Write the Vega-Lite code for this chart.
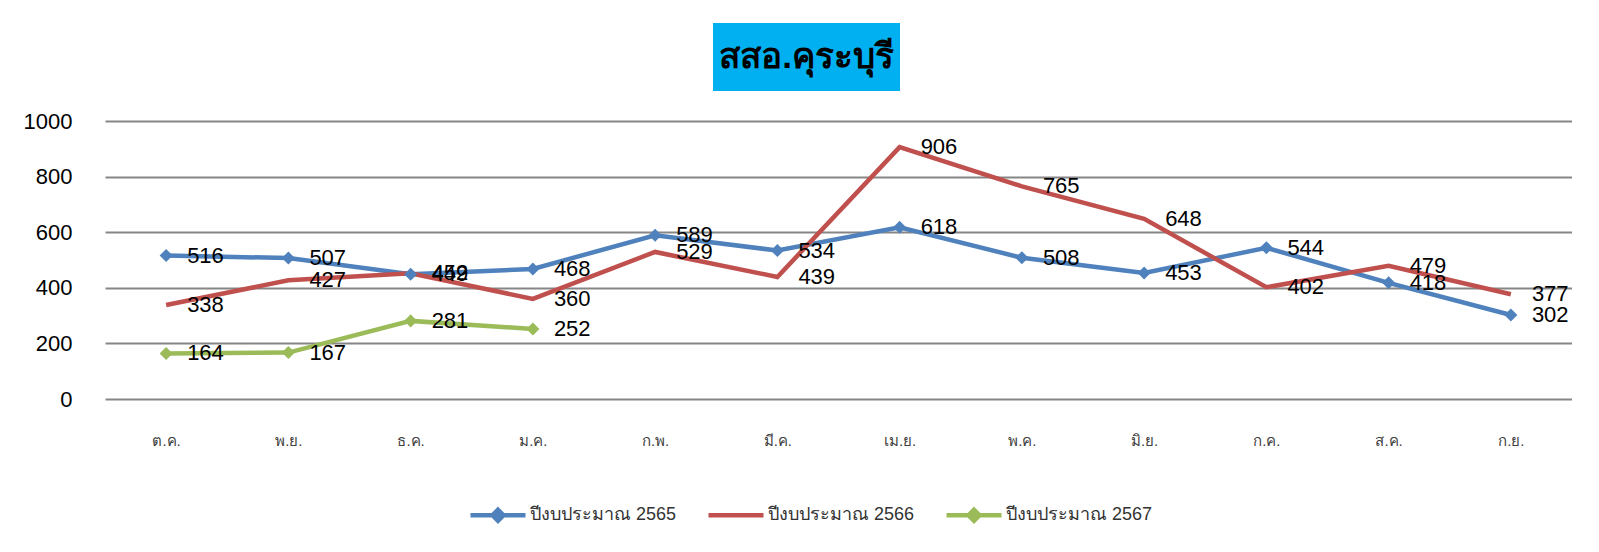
{
  "$schema": "https://vega.github.io/schema/vega-lite/v6.json",
  "padding": {"left": 23, "top": 23, "right": 0, "bottom": 0},
  "background": "white",
  "config": {"view": {"stroke": null}},
  "spacing": 19,
  "vconcat": [
    {
      "spacing": 0,
      "hconcat": [
        {
          "width": 608,
          "height": 68,
          "data": {"values": [{"t": ""}]},
          "mark": {"type": "text"},
          "encoding": {"text": {"field": "t"}}
        },
        {
          "width": 187,
          "height": 68,
          "view": {"fill": "#00B0F0", "stroke": null},
          "data": {"values": [{"t": "สสอ.คุระบุรี"}]},
          "mark": {"type": "text", "align": "center", "baseline": "middle", "fontSize": 35, "fontWeight": "bold", "color": "black"},
          "encoding": {"text": {"field": "t"}}
        }
      ]
    },
    {
      "width": 1467,
      "height": 278,
      "data": {"values": [
        {"m": "ต.ค.", "s": "ปีงบประมาณ 2565", "v": 516},
        {"m": "พ.ย.", "s": "ปีงบประมาณ 2565", "v": 507},
        {"m": "ธ.ค.", "s": "ปีงบประมาณ 2565", "v": 449},
        {"m": "ม.ค.", "s": "ปีงบประมาณ 2565", "v": 468},
        {"m": "ก.พ.", "s": "ปีงบประมาณ 2565", "v": 589},
        {"m": "มี.ค.", "s": "ปีงบประมาณ 2565", "v": 534},
        {"m": "เม.ย.", "s": "ปีงบประมาณ 2565", "v": 618},
        {"m": "พ.ค.", "s": "ปีงบประมาณ 2565", "v": 508},
        {"m": "มิ.ย.", "s": "ปีงบประมาณ 2565", "v": 453},
        {"m": "ก.ค.", "s": "ปีงบประมาณ 2565", "v": 544},
        {"m": "ส.ค.", "s": "ปีงบประมาณ 2565", "v": 418},
        {"m": "ก.ย.", "s": "ปีงบประมาณ 2565", "v": 302},
        {"m": "ต.ค.", "s": "ปีงบประมาณ 2566", "v": 338},
        {"m": "พ.ย.", "s": "ปีงบประมาณ 2566", "v": 427},
        {"m": "ธ.ค.", "s": "ปีงบประมาณ 2566", "v": 452},
        {"m": "ม.ค.", "s": "ปีงบประมาณ 2566", "v": 360},
        {"m": "ก.พ.", "s": "ปีงบประมาณ 2566", "v": 529},
        {"m": "มี.ค.", "s": "ปีงบประมาณ 2566", "v": 439},
        {"m": "เม.ย.", "s": "ปีงบประมาณ 2566", "v": 906},
        {"m": "พ.ค.", "s": "ปีงบประมาณ 2566", "v": 765},
        {"m": "มิ.ย.", "s": "ปีงบประมาณ 2566", "v": 648},
        {"m": "ก.ค.", "s": "ปีงบประมาณ 2566", "v": 402},
        {"m": "ส.ค.", "s": "ปีงบประมาณ 2566", "v": 479},
        {"m": "ก.ย.", "s": "ปีงบประมาณ 2566", "v": 377},
        {"m": "ต.ค.", "s": "ปีงบประมาณ 2567", "v": 164},
        {"m": "พ.ย.", "s": "ปีงบประมาณ 2567", "v": 167},
        {"m": "ธ.ค.", "s": "ปีงบประมาณ 2567", "v": 281},
        {"m": "ม.ค.", "s": "ปีงบประมาณ 2567", "v": 252}
      ]},
      "encoding": {
        "x": {
          "field": "m", "type": "ordinal",
          "sort": ["ต.ค.", "พ.ย.", "ธ.ค.", "ม.ค.", "ก.พ.", "มี.ค.", "เม.ย.", "พ.ค.", "มิ.ย.", "ก.ค.", "ส.ค.", "ก.ย."],
          "scale": {"type": "point", "padding": 0.5},
          "axis": {"title": null, "domain": false, "ticks": false, "grid": false, "labelAngle": 0, "labelPadding": 34, "labelFontSize": 15, "labelColor": "#404040"}
        },
        "y": {
          "field": "v", "type": "quantitative",
          "scale": {"domain": [0, 1000], "nice": false},
          "axis": {"title": null, "values": [0, 200, 400, 600, 800, 1000], "format": "d", "domain": false, "ticks": false, "grid": true, "gridColor": "#868686", "gridWidth": 2, "labelFontSize": 22, "labelPadding": 33, "labelColor": "black", "labelFont": "Liberation Sans"}
        }
      },
      "layer": [
        {
          "mark": {"type": "line", "strokeWidth": 4.5},
          "encoding": {
            "color": {
              "field": "s", "type": "nominal",
              "scale": {"domain": ["ปีงบประมาณ 2565", "ปีงบประมาณ 2566", "ปีงบประมาณ 2567"], "range": ["#4F81BD", "#C0504D", "#9BBB59"]},
              "legend": {
                "title": null, "orient": "none", "direction": "horizontal", "legendX": 363, "legendY": 462,
                "symbolSize": 3025, "symbolStrokeWidth": 4.5, "labelFontSize": 18, "labelColor": "#333333",
                "labelOffset": 2, "columnPadding": 22, "labelBaseline": "middle",
                "encode": {"symbols": {"update": {
                  "shape": {"signal": "datum.value === 'ปีงบประมาณ 2566' ? 'M-1,0H1M0,-0.2L0,-0.2M0,0.2L0,0.2' : 'M-1,0H1M0,-0.2L0.2,0L0,0.2L-0.2,0Z'"},
                  "fill": {"signal": "scale('color', datum.value)"}
                }}}
              }
            },
            "detail": {"field": "s"}
          }
        },
        {
          "transform": [{"filter": "datum.s !== 'ปีงบประมาณ 2566'"}],
          "mark": {"type": "point", "shape": "diamond", "filled": true, "size": 170, "opacity": 1},
          "encoding": {
            "color": {"field": "s", "type": "nominal"}
          }
        },
        {
          "mark": {"type": "text", "align": "left", "baseline": "middle", "dx": 21, "fontSize": 22, "font": "Liberation Sans", "color": "black"},
          "encoding": {"text": {"field": "v", "type": "quantitative"}}
        }
      ]
    }
  ]
}
